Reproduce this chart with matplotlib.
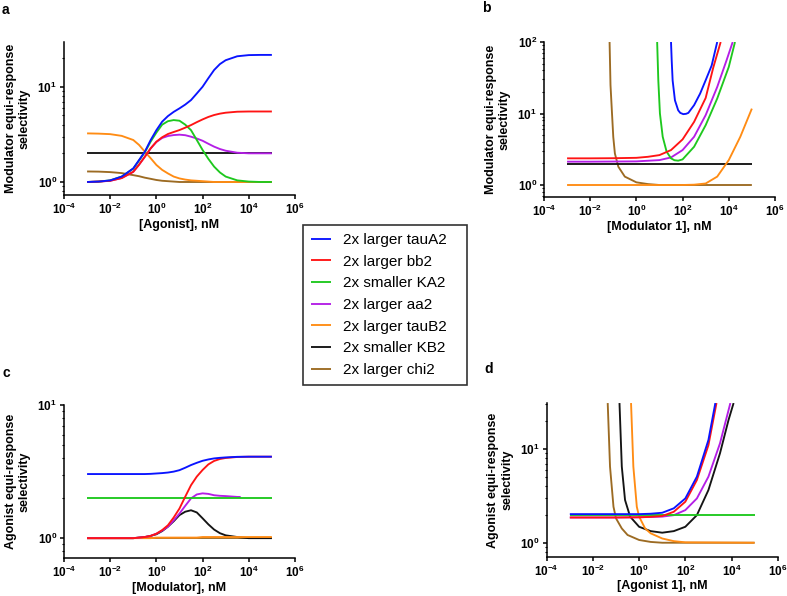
import matplotlib
matplotlib.use('Agg')
import matplotlib.pyplot as plt
import numpy as np
from matplotlib.ticker import LogLocator, NullLocator, NullFormatter

plt.rcParams['font.family'] = ['Liberation Sans', 'DejaVu Sans']
plt.rcParams['mathtext.fontset'] = 'custom'
plt.rcParams['mathtext.rm'] = 'Liberation Sans:bold'
plt.rcParams['mathtext.it'] = 'Liberation Sans:bold'
plt.rcParams['mathtext.bf'] = 'Liberation Sans:bold'
plt.rcParams['mathtext.sf'] = 'Liberation Sans:bold'

names = ['2x larger tauA2', '2x larger bb2', '2x smaller KA2', '2x larger aa2',
         '2x larger tauB2', '2x smaller KB2', '2x larger chi2']
colors = ['#0a14ff', '#ff1414', '#1ec81e', '#b41ee6', '#ff8c14', '#141414', '#9c6b23']

# ---- panel a : log10 [Agonist] grid (shared by all series) ----
a_logx = [-3, -2.5, -2, -1.5, -1, -0.75, -0.5, -0.25, 0, 0.25, 0.5, 0.75, 1,
          1.25, 1.5, 1.75, 2, 2.25, 2.5, 2.75, 3, 3.5, 4, 4.5, 5]
a_tauA2 = [1.0, 1.01, 1.04, 1.14, 1.39, 1.7, 2.08, 2.75, 3.5, 4.3, 4.92, 5.45, 5.93,
           6.5, 7.25, 8.5, 10.0, 12.3, 15.0, 17.3, 19.0, 20.9, 21.5, 21.6, 21.6]
a_bb2 = [1.0, 1.01, 1.03, 1.1, 1.28, 1.52, 1.84, 2.25, 2.65, 2.95, 3.19, 3.35, 3.51,
         3.72, 3.96, 4.25, 4.54, 4.82, 5.05, 5.22, 5.34, 5.47, 5.5, 5.5, 5.5]
a_KA2 = [1.0, 1.01, 1.04, 1.14, 1.38, 1.68, 2.05, 2.65, 3.3, 4.0, 4.35, 4.47, 4.4,
         4.0, 3.5, 2.76, 2.17, 1.75, 1.45, 1.26, 1.14, 1.04, 1.01, 1.0, 1.0]
a_aa2 = [1.0, 1.01, 1.03, 1.1, 1.28, 1.52, 1.84, 2.25, 2.63, 2.9, 3.04, 3.11, 3.14,
         3.1, 2.99, 2.86, 2.71, 2.52, 2.35, 2.22, 2.13, 2.03, 2.0, 2.0, 2.0]
a_tauB2 = [3.24, 3.22, 3.18, 3.05, 2.76, 2.45, 2.08, 1.78, 1.51, 1.34, 1.23, 1.14, 1.09,
           1.06, 1.04, 1.03, 1.02, 1.01, 1.0, 1.0, 1.0, 1.0, 1.0, 1.0, 1.0]
a_KB2 = [2.0] * 25
a_chi2 = [1.29, 1.285, 1.27, 1.24, 1.18, 1.15, 1.11, 1.08, 1.05, 1.03, 1.02, 1.01, 1.0,
          1.0, 1.0, 1.0, 1.0, 1.0, 1.0, 1.0, 1.0, 1.0, 1.0, 1.0, 1.0]

# ---- panel b : log10 [Modulator 1], one x list per series ----
b_tauA2_logx = [1.5, 1.53, 1.57, 1.67, 1.81, 1.9, 2.03, 2.15, 2.25, 2.5, 2.76, 3.0, 3.26, 3.5]
b_tauA2 = [100, 55, 29, 15.3, 11.1, 10.2, 9.8, 9.9, 10.2, 13.1, 19, 29.2, 47, 100]
b_bb2_logx = [-3, -2, -1, 0, 0.5, 1, 1.5, 2, 2.5, 3, 3.33, 3.65]
b_bb2 = [2.36, 2.36, 2.37, 2.4, 2.48, 2.62, 3.08, 4.34, 7.65, 16.5, 44, 100]
b_KA2_logx = [0.9, 0.95, 1.02, 1.14, 1.31, 1.5, 1.65, 1.81, 2.0, 2.5, 3.0, 3.5, 4.0, 4.27]
b_KA2 = [100, 29, 10, 4.73, 2.92, 2.36, 2.22, 2.19, 2.28, 3.43, 6.87, 16.2, 44.8, 100]
b_aa2_logx = [-3, -2, -1, 0, 1, 1.5, 2, 2.5, 3, 3.5, 3.9, 4.17]
b_aa2 = [2.12, 2.12, 2.13, 2.14, 2.23, 2.43, 3.08, 4.73, 9.5, 23.5, 55, 100]
b_tauB2_logx = [-3, -2, -1, 0, 1, 2, 2.5, 3, 3.5, 4, 4.5, 5]
b_tauB2 = [1.0, 1.0, 1.0, 1.0, 1.0, 1.0, 1.01, 1.05, 1.31, 2.23, 4.73, 11.7]
b_KB2_logx = [-3, 5]
b_KB2 = [1.96, 1.96]
b_chi2_logx = [-1.16, -1.12, -1.07, -1.0, -0.93, -0.78, -0.5, 0, 0.5, 1, 5]
b_chi2 = [100, 25, 12.4, 4.7, 2.76, 1.8, 1.31, 1.09, 1.03, 1.0, 1.0]

# ---- panel c : log10 [Modulator] ----
c_logx = a_logx
c_tauA2 = [3.03, 3.03, 3.03, 3.03, 3.03, 3.03, 3.03, 3.04, 3.06, 3.08, 3.11, 3.16, 3.24,
           3.38, 3.54, 3.68, 3.81, 3.9, 3.97, 4.01, 4.04, 4.08, 4.09, 4.09, 4.09]
c_bb2 = [1.0, 1.0, 1.0, 1.0, 1.0, 1.01, 1.02, 1.04, 1.08, 1.15, 1.25, 1.43, 1.67,
         2.05, 2.5, 2.9, 3.25, 3.58, 3.8, 3.93, 4.0, 4.07, 4.09, 4.09, 4.09]
c_KA2 = [2.0] * 25
c_aa2_logx = [-3, -2.5, -2, -1.5, -1, -0.75, -0.5, -0.25, 0, 0.25, 0.5, 0.75, 1,
              1.25, 1.5, 1.75, 2, 2.25, 2.5, 2.75, 3, 3.5, 3.65]
c_aa2 = [1.0, 1.0, 1.0, 1.0, 1.0, 1.01, 1.02, 1.04, 1.08, 1.14, 1.22, 1.36, 1.53,
         1.75, 1.99, 2.13, 2.17, 2.15, 2.1, 2.08, 2.07, 2.04, 2.04]
c_tauB2 = [1.0, 1.0, 1.0, 1.0, 1.0, 1.0, 1.0, 1.0, 1.01, 1.01, 1.01, 1.01, 1.01,
           1.01, 1.01, 1.01, 1.02, 1.02, 1.02, 1.02, 1.02, 1.02, 1.02, 1.02, 1.02]
c_KB2 = [1.0, 1.0, 1.0, 1.0, 1.0, 1.01, 1.02, 1.04, 1.07, 1.13, 1.22, 1.34, 1.49,
         1.58, 1.62, 1.56, 1.41, 1.27, 1.16, 1.09, 1.05, 1.02, 1.0, 1.0, 1.0]
c_chi2 = [1.0] * 25

# ---- panel d : log10 [Agonist 1] ----
d_tauA2_logx = [-3, -1, 0, 0.5, 1, 1.5, 2, 2.5, 3, 3.3]
d_tauA2 = [2.02, 2.02, 2.02, 2.04, 2.09, 2.33, 2.97, 5.07, 12.5, 31]
d_bb2_logx = [-3, -1, 0, 0.5, 1, 1.5, 2, 2.5, 3, 3.35]
d_bb2 = [1.86, 1.86, 1.87, 1.89, 1.93, 2.14, 2.74, 4.67, 11.0, 31]
d_KA2_logx = [-3, 5]
d_KA2 = [2.0, 2.0]
d_aa2_logx = [-3, -1, 0, 1, 1.5, 2, 2.5, 3, 3.5, 3.95]
d_aa2 = [1.86, 1.86, 1.87, 1.9, 1.97, 2.23, 2.97, 5.07, 11.5, 31]
d_tauB2_logx = [-0.35, -0.25, -0.1, 0, 0.26, 0.5, 1, 1.5, 2, 5]
d_tauB2 = [31, 6.5, 2.42, 1.9, 1.42, 1.26, 1.11, 1.04, 1.01, 1.0]
d_KB2_logx = [-0.85, -0.75, -0.61, -0.39, 0, 0.5, 1, 1.5, 2, 2.5, 3, 3.5, 3.87, 4.09]
d_KB2 = [31, 6.5, 2.86, 1.9, 1.48, 1.33, 1.28, 1.33, 1.48, 1.97, 3.65, 9.0, 20.4, 31]
d_chi2_logx = [-1.36, -1.26, -1.11, -1, -0.75, -0.5, 0, 0.5, 1, 5]
d_chi2 = [31, 6.5, 2.42, 1.82, 1.42, 1.21, 1.07, 1.02, 1.0, 1.0]

panel_a = [(a_logx, a_tauA2), (a_logx, a_bb2), (a_logx, a_KA2), (a_logx, a_aa2),
           (a_logx, a_tauB2), (a_logx, a_KB2), (a_logx, a_chi2)]
panel_b = [(b_tauA2_logx, b_tauA2), (b_bb2_logx, b_bb2), (b_KA2_logx, b_KA2),
           (b_aa2_logx, b_aa2), (b_tauB2_logx, b_tauB2), (b_KB2_logx, b_KB2),
           (b_chi2_logx, b_chi2)]
panel_c = [(c_logx, c_tauA2), (c_logx, c_bb2), (c_logx, c_KA2), (c_aa2_logx, c_aa2),
           (c_logx, c_tauB2), (c_logx, c_KB2), (c_logx, c_chi2)]
panel_d = [(d_tauA2_logx, d_tauA2), (d_bb2_logx, d_bb2), (d_KA2_logx, d_KA2),
           (d_aa2_logx, d_aa2), (d_tauB2_logx, d_tauB2), (d_KB2_logx, d_KB2),
           (d_chi2_logx, d_chi2)]

fig = plt.figure(figsize=(7.87, 5.96), dpi=100)

def draw(rect, series, ylim, yexp, xlabel, ylabel, letter, letter_xy):
    ax = fig.add_axes(rect)
    handles = [None] * 7
    # later series sit underneath earlier ones
    for i in range(6, -1, -1):
        lx, y = series[i]
        ln, = ax.plot(10.0 ** np.array(lx), y, color=colors[i], lw=1.35,
                      label=names[i], solid_capstyle='butt')
        handles[i] = ln
    ax.set_xscale('log')
    ax.set_yscale('log')
    ax.set_xlim(1e-4, 1e6)
    ax.set_ylim(*ylim)
    xe = np.arange(-4, 7, 2)
    ax.set_xticks(10.0 ** xe)
    ax.set_xticklabels([f'$10^{{{e}}}$' for e in xe])
    ax.xaxis.set_minor_locator(NullLocator())
    ax.set_yticks(10.0 ** np.array(yexp))
    ax.set_yticklabels([f'$10^{{{e}}}$' for e in yexp])
    ax.yaxis.set_minor_locator(LogLocator(base=10, subs=np.arange(2, 10)))
    ax.yaxis.set_minor_formatter(NullFormatter())
    for s in ['top', 'right']:
        ax.spines[s].set_visible(False)
    for s in ['left', 'bottom']:
        ax.spines[s].set_linewidth(1.1)
    ax.tick_params(which='major', length=3, width=1.1, labelsize=8.5, pad=2)
    ax.tick_params(which='minor', length=1.6, width=0.8)
    ax.set_xlabel(xlabel, fontsize=9, fontweight='bold', labelpad=1)
    ax.set_ylabel(ylabel, fontsize=9, fontweight='bold', labelpad=5)
    fig.text(letter_xy[0], letter_xy[1], letter, fontsize=10, fontweight='bold',
             va='top', ha='left')
    return handles

W = 0.2935
h = draw([0.0813, 0.6728, W, 0.2567], panel_a, (0.73, 29.5), [0, 1],
         '[Agonist], nM', 'Modulator equi-response\nselectivity', 'a', (0.002, 0.995))
draw([0.6912, 0.6695, W, 0.26], panel_b, (0.68, 100), [0, 1, 2],
     '[Modulator 1], nM', 'Modulator equi-response\nselectivity', 'b', (0.612, 0.998))
draw([0.0813, 0.0638, W, 0.2567], panel_c, (0.71, 10), [0, 1],
     '[Modulator], nM', 'Agonist equi-response\nselectivity', 'c', (0.003, 0.386))
draw([0.6947, 0.0660, W, 0.2573], panel_d, (0.71, 30.8), [0, 1],
     '[Agonist 1], nM', 'Agonist equi-response\nselectivity', 'd', (0.615, 0.393))

leg = fig.legend(handles=h, labels=names, loc='upper left',
                 bbox_to_anchor=(0.385, 0.623, 0.2084, 0.0), mode='expand',
                 borderaxespad=0, fontsize=11,
                 frameon=True, fancybox=False, handlelength=1.3, handletextpad=0.8,
                 labelspacing=0.5, borderpad=0.55)
leg.get_frame().set_edgecolor('black')
leg.get_frame().set_linewidth(1.2)

fig.savefig('out.png', dpi=100)
